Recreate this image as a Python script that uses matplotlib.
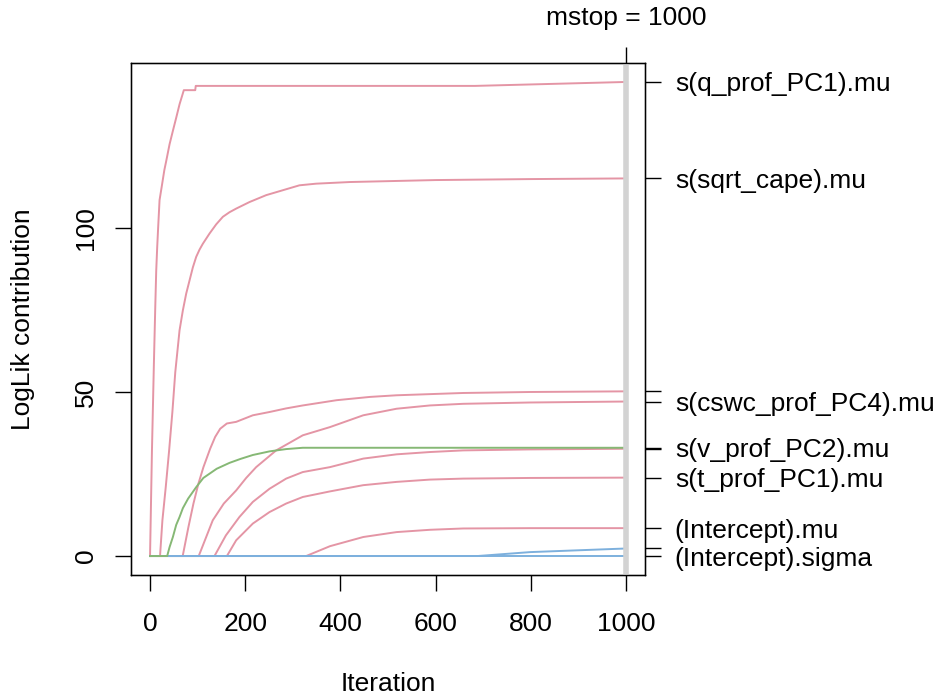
import matplotlib.pyplot as plt

plt.rcParams['font.family'] = ['Liberation Sans', 'DejaVu Sans']
plt.rcParams['font.size'] = 19

# cumulative loglik contribution per base-learner along the boosting path
q_prof_x = [0, 4, 8, 11, 13, 15, 17, 20, 25, 30, 34, 41, 48, 55, 62, 71, 95, 96, 683, 1000]
q_prof_y = [0, 32, 58, 76, 87, 94, 100, 108.5, 113, 117.6, 120.4, 125.5, 129.6, 133.6, 137.7, 142.0, 142.0, 143.3, 143.3, 144.5]

cape_x = [0, 21, 26, 33, 40, 47, 53, 62, 69, 76, 83, 90, 97, 104, 111, 125, 139, 153, 167, 181, 209, 244, 279, 314, 349, 420, 600, 800, 1000]
cape_y = [0, 0, 10.9, 21, 32, 44, 56, 68.8, 74.9, 80, 84, 88, 91.2, 93.4, 95.2, 98.3, 101.1, 103.4, 104.8, 105.9, 107.9, 110, 111.5, 113, 113.5, 114, 114.6, 114.9, 115.1]

c_x = [0, 68.6, 80.6, 91.2, 101.7, 112.2, 126.3, 136.8, 147.4, 161.4, 181, 216, 251, 286, 321, 392, 462, 518, 658, 798, 1000]
c_y = [0, 0, 8.8, 16.0, 22.1, 27.1, 32.7, 36.3, 38.8, 40.4, 40.9, 42.9, 43.9, 45.0, 45.9, 47.5, 48.5, 49.0, 49.7, 50.0, 50.2]

cswc_x = [0, 102.3, 131.8, 155, 181, 202, 223, 265, 321, 378, 448, 518, 588, 658, 798, 1000]
cswc_y = [0, 0, 10.9, 16.0, 20.0, 23.8, 27.1, 32.2, 36.8, 39.3, 42.9, 44.9, 45.9, 46.4, 46.8, 47.1]

e_x = [0, 135.4, 159.4, 187.8, 216, 251, 286, 321, 378, 448, 518, 588, 658, 798, 1000]
e_y = [0, 0, 6.3, 11.9, 16.5, 20.5, 23.6, 25.6, 27.1, 29.7, 31.0, 31.7, 32.2, 32.5, 32.7]

t_prof_x = [0, 161.5, 181, 216, 251, 286, 321, 378, 448, 518, 588, 658, 798, 1000]
t_prof_y = [0, 0, 4.8, 9.9, 13.4, 16.0, 18.0, 19.7, 21.6, 22.6, 23.3, 23.6, 23.8, 23.9]

int_mu_x = [0, 328, 378, 448, 518, 588, 658, 798, 1000]
int_mu_y = [0, 0, 3.0, 5.8, 7.3, 8.0, 8.4, 8.5, 8.5]

v_prof_x = [0, 36, 41, 48, 55, 62, 69, 80, 97, 112, 140, 167, 190, 216, 251, 286, 321, 1000]
v_prof_y = [0, 0, 2.7, 5.8, 9.5, 11.9, 14.6, 17.5, 21.0, 23.8, 26.6, 28.4, 29.6, 30.8, 31.9, 32.6, 33.0, 33.0]

int_sigma_x = [0, 1000]
int_sigma_y = [0, 0]

sig2_x = [0, 688, 799, 1000]
sig2_y = [0, 0, 1.2, 2.3]

mstop = 1000
end_vals = [144.5, 115.1, 50.2, 47.1, 33.0, 32.7, 23.9, 8.5, 2.3, 0]
end_labels = ["s(q_prof_PC1).mu", "s(sqrt_cape).mu", "", "s(cswc_prof_PC4).mu",
              "s(v_prof_PC2).mu", "", "s(t_prof_PC1).mu", "(Intercept).mu", "",
              "(Intercept).sigma"]

pink = "#E495A5"
green = "#86B875"
blue = "#7DB0DD"

fig = plt.figure(figsize=(9.35, 6.97), dpi=100)
ax = fig.add_axes([131 / 935, 1 - 575 / 697, 514 / 935, 512 / 697])

lw = 1.4
for xs, ys in [(q_prof_x, q_prof_y), (cape_x, cape_y), (c_x, c_y), (cswc_x, cswc_y),
               (e_x, e_y), (t_prof_x, t_prof_y), (int_mu_x, int_mu_y)]:
    ax.plot(xs, ys, color=pink, lw=lw, zorder=2)
ax.plot(int_sigma_x, int_sigma_y, color=blue, lw=lw, zorder=3)
ax.plot(sig2_x, sig2_y, color=blue, lw=lw, zorder=3)
ax.plot(v_prof_x, v_prof_y, color=green, lw=lw, zorder=4)

ax.axvline(mstop, color="lightgray", lw=4, zorder=5)

# R style axis ranges (4% extension)
ymax = max(end_vals)
ax.set_xlim(-0.04 * mstop, 1.04 * mstop)
ax.set_ylim(-0.04 * ymax, 1.04 * ymax)

ax.set_xticks([0, 200, 400, 600, 800, 1000])
ax.set_yticks([0, 50, 100])
ax.set_yticklabels(["0", "50", "100"], rotation=90, va="center")
ax.tick_params(direction="out", length=11.5, width=1, pad=15)
ax.tick_params(axis="y", pad=12)
ax.set_xlabel("Iteration", labelpad=26)
ax.set_ylabel("LogLik contribution", labelpad=28)
for s in ax.spines.values():
    s.set_linewidth(1)

# labels of the paths at the final iteration
ax2 = ax.twinx()
ax2.set_ylim(ax.get_ylim())
ax2.set_yticks(end_vals)
ax2.set_yticklabels(end_labels)
ax2.tick_params(direction="out", length=11.5, width=1, pad=10)

ax3 = ax.twiny()
ax3.set_xlim(ax.get_xlim())
ax3.set_xticks([mstop])
ax3.set_xticklabels(["mstop = %d" % mstop])
ax3.tick_params(direction="out", length=11.5, width=1, pad=12)

fig.savefig("out.png", dpi=100)
